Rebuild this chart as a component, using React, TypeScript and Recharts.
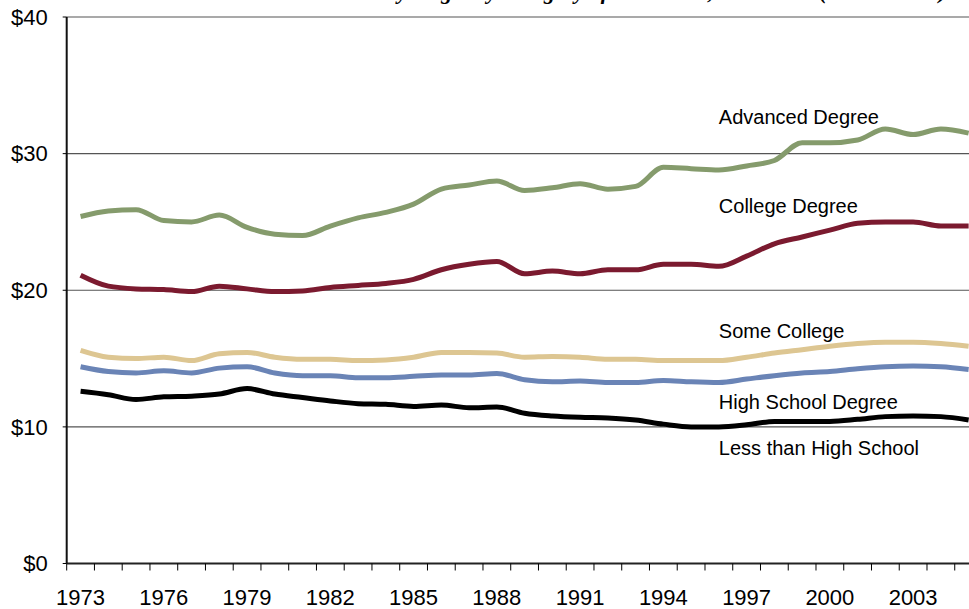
import React from 'react'
import { LineChart, Line, XAxis, YAxis, CartesianGrid, ReferenceDot } from 'recharts'

const years = [
  '1973', '1974', '1975', '1976', '1977', '1978', '1979', '1980', '1981', '1982', '1983',
  '1984', '1985', '1986', '1987', '1988', '1989', '1990', '1991', '1992', '1993', '1994',
  '1995', '1996', '1997', '1998', '1999', '2000', '2001', '2002', '2003', '2004', '2005',
]

const advanced = [25.4, 25.8, 25.9, 25.1, 25.0, 25.5, 24.6, 24.1, 24.0, 24.7, 25.3, 25.7, 26.3, 27.4, 27.7, 28.0, 27.3, 27.5, 27.8, 27.4, 27.6, 29.0, 28.9, 28.8, 29.1, 29.5, 30.8, 30.8, 31.0, 31.8, 31.4, 31.8, 31.5]
const college = [21.1, 20.3, 20.1, 20.05, 19.9, 20.3, 20.1, 19.9, 19.95, 20.2, 20.35, 20.5, 20.8, 21.5, 21.9, 22.1, 21.2, 21.4, 21.2, 21.5, 21.5, 21.9, 21.9, 21.75, 22.5, 23.4, 23.9, 24.4, 24.9, 25.0, 25.0, 24.7, 24.7]
const someCollege = [15.6, 15.1, 15.0, 15.1, 14.85, 15.35, 15.45, 15.1, 14.95, 14.95, 14.85, 14.9, 15.1, 15.45, 15.45, 15.4, 15.1, 15.15, 15.1, 14.95, 14.95, 14.85, 14.85, 14.85, 15.1, 15.4, 15.65, 15.9, 16.1, 16.2, 16.2, 16.1, 15.9]
const highSchool = [14.4, 14.05, 13.95, 14.1, 13.95, 14.3, 14.4, 13.95, 13.75, 13.75, 13.6, 13.6, 13.7, 13.8, 13.8, 13.9, 13.45, 13.3, 13.35, 13.25, 13.25, 13.4, 13.3, 13.25, 13.5, 13.75, 13.95, 14.05, 14.25, 14.4, 14.45, 14.4, 14.2]
const lessHS = [12.6, 12.35, 12.0, 12.2, 12.25, 12.4, 12.8, 12.4, 12.15, 11.9, 11.7, 11.65, 11.5, 11.6, 11.4, 11.45, 11.0, 10.8, 10.7, 10.65, 10.5, 10.2, 10.0, 10.0, 10.15, 10.4, 10.4, 10.4, 10.55, 10.75, 10.8, 10.75, 10.5]

const yTicks = [0, 10, 20, 30, 40]

const series = [
  { key: 'advanced', name: 'Advanced Degree', color: '#859B6C', labelY: 32.7 },
  { key: 'college', name: 'College Degree', color: '#7B1A2F', labelY: 26.15 },
  { key: 'someCollege', name: 'Some College', color: '#DDC692', labelY: 17.05 },
  { key: 'highSchool', name: 'High School Degree', color: '#6A84B6', labelY: 11.85 },
  { key: 'lessHS', name: 'Less than High School', color: '#000000', labelY: 8.45 },
]
const LABEL_YEAR = '1996'

const data = years.map((year, i) => ({
  year,
  advanced: advanced[i],
  college: college[i],
  someCollege: someCollege[i],
  highSchool: highSchool[i],
  lessHS: lessHS[i],
}))

const W = 990
const H = 609
const M = { top: 17, right: 7.5, bottom: 5.5, left: 6.7 }
const Y_W = 60
const BAND = (W - M.left - M.right - Y_W) / years.length
const FONT = '"Liberation Sans", Arial, sans-serif'

function YearTick(props: any) {
  const { x, y, payload, index } = props
  const right = x + BAND / 2
  return (
    <g>
      {index === 0 && <line x1={x - BAND / 2} y1={y} x2={x - BAND / 2} y2={y + 7} stroke="#000" strokeWidth={1} />}
      <line x1={right} y1={y} x2={right} y2={y + 7} stroke="#000" strokeWidth={1} />
      {index % 3 === 0 && (
        <text x={x} y={y + 41.5} textAnchor="middle" fontSize={22} fontFamily={FONT} fill="#000">
          {payload.value}
        </text>
      )}
    </g>
  )
}

export default function App() {
  return (
    <div style={{ position: 'absolute', left: 0, top: 0, width: 969, height: 609, overflow: 'hidden', background: '#fff' }}>
      <LineChart width={W} height={H} data={data} margin={M}>
        <text x={946} y={-1} textAnchor="end" fontSize={22} fontFamily='"Liberation Serif", serif' fontWeight="bold" fontStyle="italic" fill="#000">
          Real Hourly Wages by Category of Education, 1973-2005 (2005 dollars)
        </text>
        <CartesianGrid vertical={false} stroke="#555" strokeWidth={1.2} />
        <XAxis
          dataKey="year"
          scale="band"
          interval={0}
          tickLine={false}
          tickSize={0}
          tickMargin={0}
          height={40}
          axisLine={{ stroke: '#222', strokeWidth: 2 }}
          tick={<YearTick />}
        />
        <YAxis
          domain={[0, 40]}
          ticks={yTicks}
          width={Y_W}
          tickFormatter={(v: number) => `$${v}`}
          tickSize={4}
          tickMargin={15}
          tickLine={{ stroke: '#000' }}
          axisLine={{ stroke: '#111', strokeWidth: 2 }}
          tick={{ fontSize: 22, fontFamily: FONT, fill: '#000' }}
        />
        {series.map(s => (
          <Line
            key={s.key}
            dataKey={s.key}
            name={s.name}
            type="monotone"
            stroke={s.color}
            strokeWidth={5}
            dot={false}
            activeDot={false}
            isAnimationActive={false}
          />
        ))}
        {series.map(s => (
          <ReferenceDot
            key={'lbl-' + s.key}
            x={LABEL_YEAR}
            y={s.labelY}
            r={0}
            stroke="none"
            fill="none"
            label={(p: any) => (
              <text x={p.viewBox.x} y={p.viewBox.y} dy="0.35em" textAnchor="start" fontSize={20} fontFamily={FONT} fill="#000">
                {s.name}
              </text>
            )}
          />
        ))}
      </LineChart>
    </div>
  )
}
